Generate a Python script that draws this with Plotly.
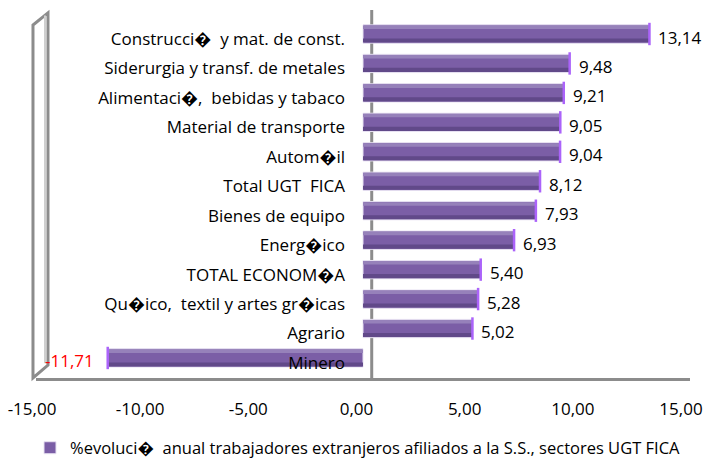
import plotly.graph_objects as go

categories = [
    "Construcci\ufffd  y mat. de const.",
    "Siderurgia y transf. de metales",
    "Alimentaci\ufffd,  bebidas y tabaco",
    "Material de transporte",
    "Autom\ufffdil",
    "Total UGT  FICA",
    "Bienes de equipo",
    "Energ\ufffdico",
    "TOTAL ECONOM\ufffdA",
    "Qu\ufffdico,  textil y artes gr\ufffdicas",
    "Agrario",
    "Minero",
]
values = [13.14, 9.48, 9.21, 9.05, 9.04, 8.12, 7.93, 6.93, 5.40, 5.28, 5.02, -11.71]
series_name = "%evoluci\ufffd  anual trabajadores extranjeros afiliados a la S.S., sectores UGT FICA"
tick_vals = [-15, -10, -5, 0, 5, 10, 15]
tick_text = [f"{v:.2f}".replace(".", ",") for v in tick_vals]
x_range = [-15, 15]

FONT = "Open Sans"
labels = [f"{v:.2f}".replace(".", ",") for v in values]

fig = go.Figure()
# base bar (legend)
fig.add_trace(go.Bar(
    y=categories, x=values, orientation="h", name=series_name,
    marker=dict(color="#7b5ea6", line=dict(color="#e8e2f2", width=1)),
    width=0.62, showlegend=True, hoverinfo="skip",
))
# darker lower strip
fig.add_trace(go.Bar(
    y=categories, x=values, orientation="h", showlegend=False,
    marker=dict(color="#614989", line=dict(width=0)),
    width=0.14, offset=0.15, hoverinfo="skip",
))
# lighter upper strip
fig.add_trace(go.Bar(
    y=categories, x=values, orientation="h", showlegend=False,
    marker=dict(color="#9681ba", line=dict(width=0)),
    width=0.12, offset=-0.29, hoverinfo="skip",
))
# end caps
fig.add_trace(go.Scatter(
    y=categories, x=values, mode="markers", showlegend=False,
    marker=dict(symbol="line-ns-open", size=16, line=dict(color="#d2c9e4", width=2.5)),
    hoverinfo="skip",
))
# invisible trace carrying the front (floor) axis with the tick labels
fig.add_trace(go.Scatter(
    x=x_range, y=[categories[-1], categories[-1]], xaxis="x2", mode="markers",
    marker=dict(opacity=0), showlegend=False, hoverinfo="skip",
))

annotations = []
for c, v, t in zip(categories, values, labels):
    neg = v < 0
    annotations.append(dict(
        x=v, y=c, xref="x", yref="y", text=t, showarrow=False,
        xanchor="right" if neg else "left", xshift=-12 if neg else 7, yshift=-3,
        font=dict(family=FONT, size=17, color="red" if neg else "black"),
    ))

L, R = 32, 19
PW = 709 - L - R

fig.update_layout(
    width=709, height=458,
    margin=dict(l=L, r=R, t=10, b=80, autoexpand=False),
    paper_bgcolor="white", plot_bgcolor="rgba(0,0,0,0)",
    barmode="overlay",
    font=dict(family=FONT, size=17, color="black"),
    xaxis=dict(
        range=x_range, domain=[(36 - L) / PW, 1], automargin=False,
        showticklabels=False, ticks="",
        showgrid=False, zeroline=False,
        showline=True, linecolor="#8c8c8c", linewidth=3,
    ),
    xaxis2=dict(
        range=x_range, domain=[0, (681 - L) / PW], anchor="y", automargin=False,
        side="bottom", tickvals=tick_vals, ticktext=tick_text,
        showgrid=False, zeroline=False, showline=False,
        ticks="outside", ticklen=16, tickcolor="rgba(0,0,0,0)",
        ticklabeloverflow="allow",
        tickfont=dict(family=FONT, size=17),
    ),
    yaxis=dict(
        type="category", categoryorder="array", categoryarray=categories,
        range=[11.68, -0.815], showgrid=False, zeroline=False, showline=False,
        anchor="free", position=(363 - L) / PW, ticks="", ticklabelstandoff=18,
        ticklabelshift=-5, automargin=False,
        tickfont=dict(family=FONT, size=17),
    ),
    legend=dict(
        orientation="h", xref="container", yref="container",
        x=30 / 709, xanchor="left", y=10 / 458, yanchor="middle",
        font=dict(family=FONT, size=16.5), itemwidth=30,
    ),
    annotations=annotations,
    shapes=[
        # back wall vertical axis
        dict(type="line", xref="x", yref="paper", x0=0.4, x1=0.4, y0=0, y1=1,
             line=dict(color="#8c8c8c", width=3), layer="below"),
        # left side wall (outer)
        dict(type="path", xref="paper", yref="paper",
             path=f"M {(33-L)/PW:.4f} 0 L {(33-L)/PW:.4f} 0.959 L {(48-L)/PW:.4f} 0.992 L {(48-L)/PW:.4f} 0.035 Z",
             line=dict(color="#8c8c8c", width=3), fillcolor="rgba(0,0,0,0)"),
        # left side wall (inner light edge)
        dict(type="line", xref="paper", yref="paper",
             x0=(45 - L) / PW, x1=(45 - L) / PW, y0=0.04, y1=0.985,
             line=dict(color="#cfcfcf", width=2)),
    ],
)

fig.write_html("out.html", config={"displayModeBar": False},
               post_script="document.body.style.margin='0';document.body.style.padding='0';")
